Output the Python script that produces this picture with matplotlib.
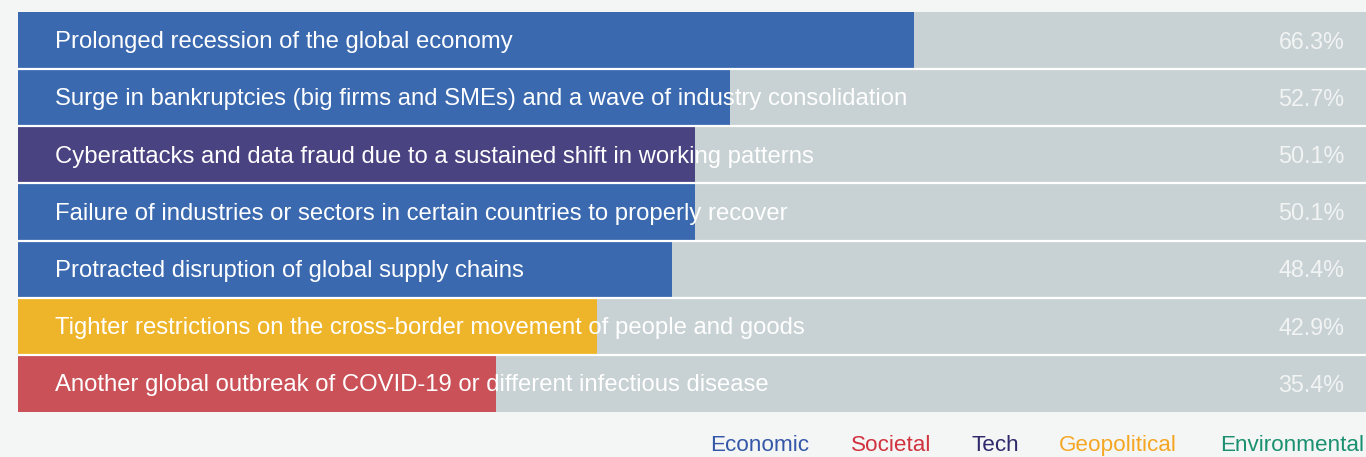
import matplotlib

matplotlib.use("Agg")

import matplotlib.pyplot as plt

risks = [
    "Prolonged recession of the global economy",
    "Surge in bankruptcies (big firms and SMEs) and a wave of industry consolidation",
    "Cyberattacks and data fraud due to a sustained shift in working patterns",
    "Failure of industries or sectors in certain countries to properly recover",
    "Protracted disruption of global supply chains",
    "Tighter restrictions on the cross-border movement of people and goods",
    "Another global outbreak of COVID-19 or different infectious disease",
]
shares = [66.3, 52.7, 50.1, 50.1, 48.4, 42.9, 35.4]
groups = ["Economic", "Economic", "Tech", "Economic", "Economic", "Geopolitical", "Societal"]

legend_names = ["Economic", "Societal", "Tech", "Geopolitical", "Environmental"]

bar_colors = {
    "Economic": "#3a69b0",
    "Societal": "#c95157",
    "Tech": "#4a4382",
    "Geopolitical": "#efb52a",
    "Environmental": "#1a9070",
}
legend_colors = {
    "Economic": "#3557a8",
    "Societal": "#d0323e",
    "Tech": "#2e2a6b",
    "Geopolitical": "#f5a623",
    "Environmental": "#1a9070",
}

plt.rcParams["font.family"] = ["Liberation Sans", "DejaVu Sans"]

W, H = 1366, 457
fig = plt.figure(figsize=(W / 100, H / 100), dpi=100)
fig.patch.set_facecolor("#f4f6f5")

ax = fig.add_axes([18 / W, (H - 412) / H, (W - 18) / W, 400 / H])
ax.set_facecolor("#f4f6f5")

y = list(range(len(risks)))
ax.barh(y, [100] * len(risks), height=1.0, color="#c8d1d3", linewidth=0)
ax.barh(y, shares, height=1.0, color=[bar_colors[g] for g in groups], linewidth=0)
for i in range(len(risks) - 1):
    ax.axhline(i + 0.5, color="white", linewidth=1.6)

for yi, name, val in zip(y, risks, shares):
    ax.text(2.75, yi + 0.03, name, color="white", fontsize=17.2, va="center", ha="left")
    ax.text(98.2, yi + 0.03, f"{val:.1f}%", color="#f2f4f4", fontsize=16.8,
            va="center", ha="right")

ax.set_xlim(0, 99.8)
ax.set_ylim(len(risks) - 0.5, -0.5)
ax.axis("off")

legend_x = [710, 851, 971, 1059, 1220]
for name, px in zip(legend_names, legend_x):
    fig.text(px / W, (H - 451) / H, name, color=legend_colors[name], fontsize=16.2,
             va="baseline", ha="left")

fig.savefig("out.png", dpi=100, facecolor=fig.get_facecolor())
